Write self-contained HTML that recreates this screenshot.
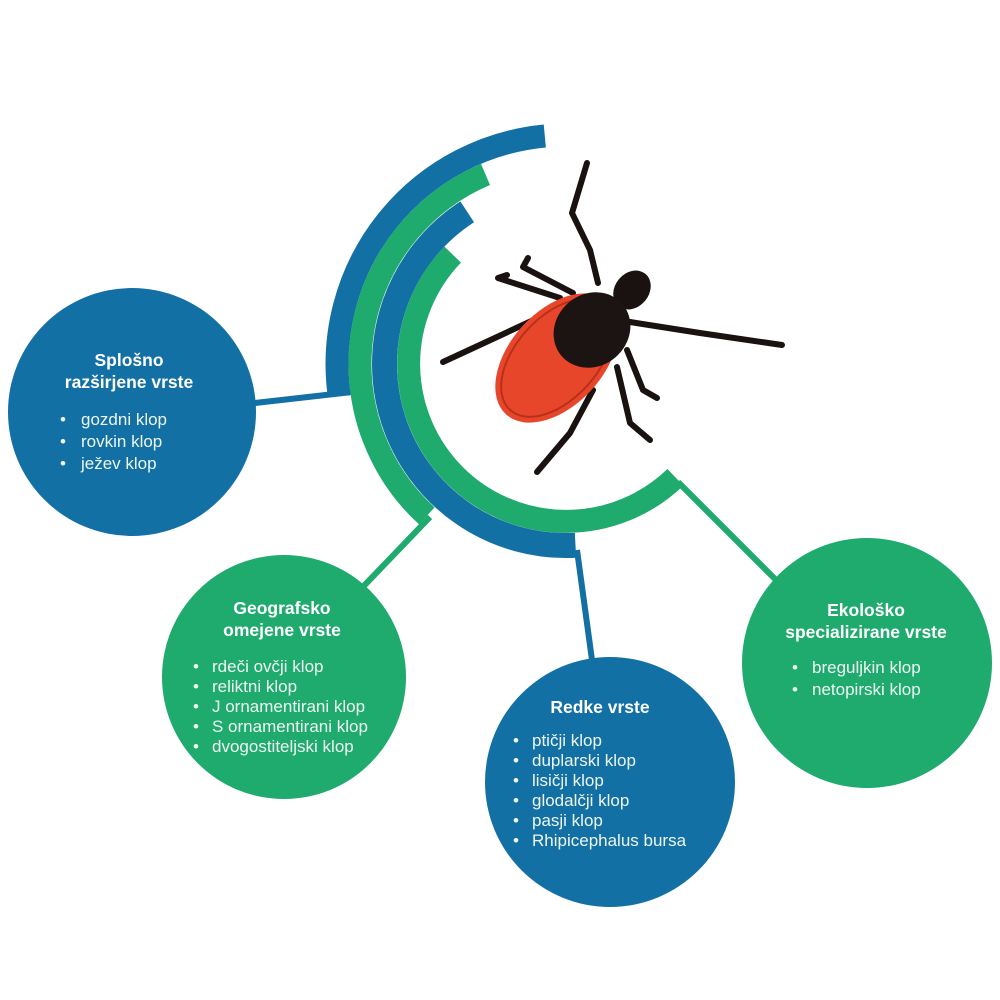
<!DOCTYPE html>
<html><head><meta charset="utf-8"><style>
body{margin:0;background:#fff;}
svg{display:block;}
.t{font-family:"Liberation Sans",sans-serif;font-weight:bold;font-size:17.5px;fill:#fff;text-anchor:middle;}
.i{font-family:"Liberation Sans",sans-serif;font-size:17px;fill:#eef6f2;}
</style></head><body>
<svg width="1000" height="1000" viewBox="0 0 1000 1000" xmlns="http://www.w3.org/2000/svg">
<g fill="none" stroke-linecap="butt">
<line x1="255" y1="403" x2="352" y2="392" stroke="#1270a4" stroke-width="6"/>
<line x1="430" y1="517" x2="358" y2="592" stroke="#1faa6e" stroke-width="6"/>
<line x1="577" y1="550" x2="592" y2="660" stroke="#1270a4" stroke-width="6"/>
<line x1="678" y1="482" x2="780" y2="584" stroke="#1faa6e" stroke-width="6"/>
<path d="M338.9 393.1 A229 229 0 0 1 544.8 136" stroke="#1270a4" stroke-width="23"/>
<path d="M426.8 515.9 A206 206 0 0 1 485.5 174.4" stroke="#1faa6e" stroke-width="23"/>
<path d="M575.5 545.3 A181.5 181.5 0 0 1 467.2 211.8" stroke="#1270a4" stroke-width="25"/>
<path d="M675.4 477.3 A157.5 157.5 0 0 1 452.7 254.6" stroke="#1faa6e" stroke-width="23"/>
</g>
<circle cx="132" cy="412" r="124" fill="#1270a4"/>
<circle cx="284" cy="677" r="122" fill="#1faa6e"/>
<circle cx="610" cy="782" r="125" fill="#1270a4"/>
<circle cx="867" cy="663" r="125" fill="#1faa6e"/>
<!-- tick -->
<g fill="none" stroke="#1a1210" stroke-width="6" stroke-linecap="round" stroke-linejoin="round">
<polyline points="598,283 590,250 572,213 587,163"/>
<polyline points="573,293 523,267 528,258"/>
<polyline points="560,298 498,278 507,275"/>
<polyline points="540,317 443,362"/>
<polyline points="630,322 700,333 782,345"/>
<polyline points="627,350 643,390 657,398"/>
<polyline points="617,367 630,423 650,440"/>
<polyline points="593,390 570,433 537,472"/>
</g>
<ellipse cx="557" cy="358" rx="76" ry="47" transform="rotate(-48 557 358)" fill="#e8462a"/>
<ellipse cx="557" cy="358" rx="70" ry="41" transform="rotate(-48 557 358)" fill="none" stroke="#b8301a" stroke-width="2"/>
<ellipse cx="632" cy="290" rx="17" ry="21" transform="rotate(40 632 290)" fill="#1a1210"/>
<ellipse cx="592" cy="330" rx="40" ry="36" transform="rotate(-40 592 330)" fill="#1c1412"/>
<text class="t" x="129" y="366">Splošno</text>
<text class="t" x="129" y="388">razširjene vrste</text>
<g class="i">
<text x="60" y="425">•</text><text x="81" y="425">gozdni klop</text>
<text x="60" y="447">•</text><text x="81" y="447">rovkin klop</text>
<text x="60" y="469">•</text><text x="81" y="469">ježev klop</text>
</g>
<text class="t" x="282" y="614">Geografsko</text>
<text class="t" x="282" y="636">omejene vrste</text>
<g class="i">
<text x="193" y="672">•</text><text x="212" y="672">rdeči ovčji klop</text>
<text x="193" y="692">•</text><text x="212" y="692">reliktni klop</text>
<text x="193" y="712">•</text><text x="212" y="712">J ornamentirani klop</text>
<text x="193" y="732">•</text><text x="212" y="732">S ornamentirani klop</text>
<text x="193" y="752">•</text><text x="212" y="752">dvogostiteljski klop</text>
</g>
<text class="t" x="600" y="713">Redke vrste</text>
<g class="i">
<text x="513" y="746">•</text><text x="532" y="746">ptičji klop</text>
<text x="513" y="766">•</text><text x="532" y="766">duplarski klop</text>
<text x="513" y="786">•</text><text x="532" y="786">lisičji klop</text>
<text x="513" y="806">•</text><text x="532" y="806">glodalčji klop</text>
<text x="513" y="826">•</text><text x="532" y="826">pasji klop</text>
<text x="513" y="846">•</text><text x="532" y="846">Rhipicephalus bursa</text>
</g>
<text class="t" x="866" y="616">Ekološko</text>
<text class="t" x="866" y="638">specializirane vrste</text>
<g class="i">
<text x="792" y="673">•</text><text x="812" y="673">breguljkin klop</text>
<text x="792" y="695">•</text><text x="812" y="695">netopirski klop</text>
</g>
</svg>
</body></html>
